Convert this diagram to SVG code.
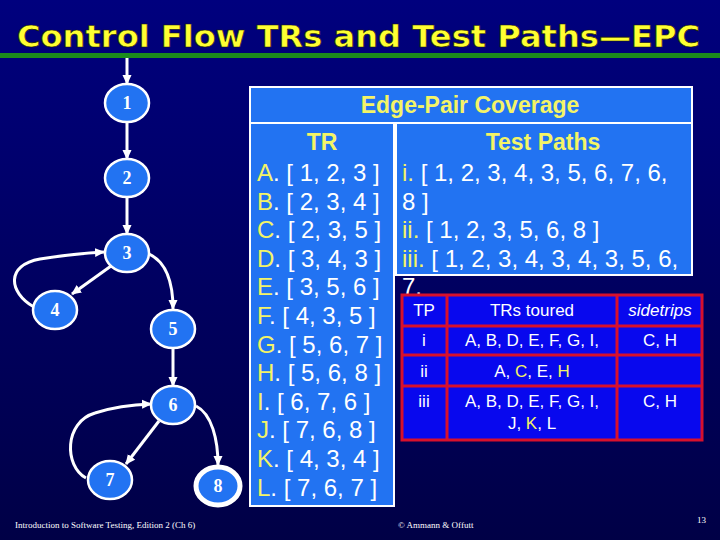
<svg xmlns="http://www.w3.org/2000/svg" width="720" height="540" viewBox="0 0 720 540">
<defs>
<linearGradient id="bg" x1="0" y1="0" x2="0" y2="1">
<stop offset="0" stop-color="#00007e"/>
<stop offset="1" stop-color="#000046"/>
</linearGradient>
<marker id="ah" markerUnits="userSpaceOnUse" markerWidth="10" markerHeight="10" viewBox="0 0 10 10" refX="9" refY="5" orient="auto">
<path d="M0,0.5 L10,5 L0,9.5 Z" fill="#ffffff"/>
</marker>
<style>
.node ellipse{fill:#2273f2;stroke:#ffffff;stroke-width:2.5}
.node text{font-family:"Liberation Serif","Times New Roman",serif;font-weight:bold;font-size:18px;fill:#ffffff;text-anchor:middle}
.edge{fill:none;stroke:#ffffff;stroke-width:3;marker-end:url(#ah)}
.big{font-family:"Liberation Sans",Arial,sans-serif;font-size:24px;fill:#ffffff}
.y{fill:#f4f466}
.hdr{font-family:"Liberation Sans",Arial,sans-serif;font-size:23px;font-weight:bold;fill:#f4f466;text-anchor:middle}
.tbl{font-family:"Liberation Sans",Arial,sans-serif;font-size:17px;fill:#ffffff;text-anchor:middle}
.foot{font-family:"Liberation Serif","Times New Roman",serif;font-size:9px;fill:#ffffff}
</style>
</defs>
<rect x="0" y="0" width="720" height="540" fill="url(#bg)"/>
<text x="17" y="47" font-family="'DejaVu Sans',Verdana,sans-serif" font-weight="bold" font-size="30" fill="#ffff33" stroke="#222200" stroke-width="0.6" textLength="683" lengthAdjust="spacingAndGlyphs">Control Flow TRs and Test Paths—EPC</text>
<rect x="0" y="53" width="720" height="5" fill="#1c8c1c"/>

<g id="connectors">
<line class="edge" x1="127" y1="58" x2="127" y2="84"/>
<line class="edge" x1="127" y1="122" x2="127" y2="159"/>
<line class="edge" x1="127" y1="197" x2="127" y2="234"/>
<line class="edge" x1="111" y1="266" x2="72" y2="294"/>
<path class="edge" d="M34,307 C8,292 6,265 40,259 Q70,254 104,252"/>
<path class="edge" d="M149,254 C166,262 173,283 173,309"/>
<line class="edge" x1="173" y1="348" x2="173" y2="386"/>
<line class="edge" x1="159" y1="421" x2="126" y2="464"/>
<path class="edge" d="M86,478 C64,466 64,422 95,413 Q120,405 151,404"/>
<path class="edge" d="M196,406 C212,414 218,440 218,465"/>
</g>

<g id="n1" class="node"><ellipse cx="127" cy="103" rx="22" ry="19"/><text x="127" y="109">1</text></g>
<g id="n2" class="node"><ellipse cx="127" cy="178" rx="22" ry="19"/><text x="127" y="184">2</text></g>
<g id="n3" class="node"><ellipse cx="127" cy="253" rx="22" ry="19"/><text x="127" y="259">3</text></g>
<g id="n4" class="node"><ellipse cx="55" cy="310" rx="22" ry="19"/><text x="55" y="316">4</text></g>
<g id="n5" class="node"><ellipse cx="173" cy="329" rx="22" ry="19"/><text x="173" y="335">5</text></g>
<g id="n6" class="node"><ellipse cx="173" cy="405" rx="22" ry="19"/><text x="173" y="411">6</text></g>
<g id="n7" class="node"><ellipse cx="110" cy="480" rx="22" ry="19"/><text x="110" y="486">7</text></g>
<g id="n8" class="node"><ellipse cx="218" cy="486" rx="22" ry="19" style="stroke-width:5"/><text x="218" y="492">8</text></g>

<g id="epc">
<rect x="250" y="87" width="442" height="36" fill="#2273f2" stroke="#ffffff" stroke-width="2"/>
<text class="hdr" x="470" y="113">Edge-Pair Coverage</text>
<rect x="250" y="123" width="144" height="383" fill="#2273f2" stroke="#ffffff" stroke-width="2"/>
<rect x="396" y="123" width="296" height="152" fill="#2273f2" stroke="#ffffff" stroke-width="2"/>
<text class="hdr" x="322" y="150">TR</text>
<text class="hdr" x="543" y="150">Test Paths</text>
<text class="big" x="257" y="181"><tspan class="y">A</tspan>. [ 1, 2, 3 ]</text>
<text class="big" x="257" y="210"><tspan class="y">B</tspan>. [ 2, 3, 4 ]</text>
<text class="big" x="257" y="238"><tspan class="y">C</tspan>. [ 2, 3, 5 ]</text>
<text class="big" x="257" y="267"><tspan class="y">D</tspan>. [ 3, 4, 3 ]</text>
<text class="big" x="257" y="295"><tspan class="y">E</tspan>. [ 3, 5, 6 ]</text>
<text class="big" x="257" y="324"><tspan class="y">F</tspan>. [ 4, 3, 5 ]</text>
<text class="big" x="257" y="353"><tspan class="y">G</tspan>. [ 5, 6, 7 ]</text>
<text class="big" x="257" y="381"><tspan class="y">H</tspan>. [ 5, 6, 8 ]</text>
<text class="big" x="257" y="410"><tspan class="y">I</tspan>. [ 6, 7, 6 ]</text>
<text class="big" x="257" y="438"><tspan class="y">J</tspan>. [ 7, 6, 8 ]</text>
<text class="big" x="257" y="467"><tspan class="y">K</tspan>. [ 4, 3, 4 ]</text>
<text class="big" x="257" y="496"><tspan class="y">L</tspan>. [ 7, 6, 7 ]</text>
<text class="big" x="402" y="181"><tspan class="y">i.</tspan> [ 1, 2, 3, 4, 3, 5, 6, 7, 6,</text>
<text class="big" x="402" y="210">8 ]</text>
<text class="big" x="402" y="238"><tspan class="y">ii.</tspan> [ 1, 2, 3, 5, 6, 8 ]</text>
<text class="big" x="402" y="267"><tspan class="y">iii.</tspan> [ 1, 2, 3, 4, 3, 4, 3, 5, 6,</text>
<text class="big" x="402" y="295">7.</text>
</g>

<g id="table">
<rect x="402" y="295" width="300" height="145" fill="#0808ee" stroke="#d8102c" stroke-width="3"/>
<g stroke="#d8102c" stroke-width="3">
<line x1="447" y1="295" x2="447" y2="440"/>
<line x1="617" y1="295" x2="617" y2="440"/>
<line x1="402" y1="326" x2="702" y2="326"/>
<line x1="402" y1="355" x2="702" y2="355"/>
<line x1="402" y1="386" x2="702" y2="386"/>
</g>
<text class="tbl y" x="424" y="316">TP</text>
<text class="tbl y" x="532" y="316">TRs toured</text>
<text class="tbl y" x="660" y="316" font-style="italic">sidetrips</text>
<text class="tbl" x="424" y="346">i</text>
<text class="tbl" x="532" y="346">A, B, D, E, F, G, I,</text>
<text class="tbl" x="660" y="346">C, H</text>
<text class="tbl" x="424" y="377">ii</text>
<text class="tbl" x="532" y="377">A, <tspan class="y">C</tspan>, E, <tspan class="y">H</tspan></text>
<text class="tbl" x="424" y="407">iii</text>
<text class="tbl" x="532" y="407">A, B, D, E, F, G, I,</text>
<text class="tbl" x="532" y="429">J, <tspan class="y">K</tspan>, L</text>
<text class="tbl" x="660" y="407">C, H</text>
</g>

<text class="foot" x="15" y="528">Introduction to Software Testing, Edition 2  (Ch 6)</text>
<text class="foot" x="398" y="528">© Ammann &amp; Offutt</text>
<text class="foot" x="697" y="523">13</text>
</svg>
